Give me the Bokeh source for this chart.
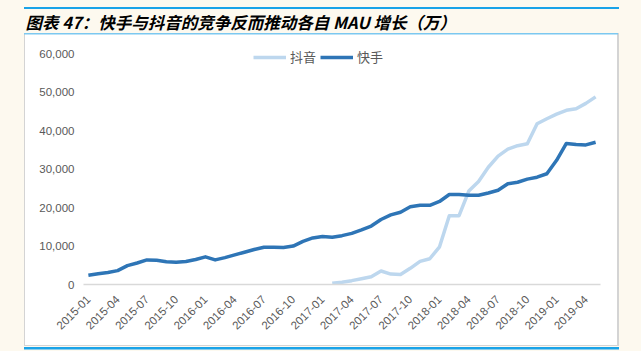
import math
import numpy as np
from bokeh.plotting import figure
from bokeh.models import FixedTicker, NumeralTickFormatter
from bokeh.embed import file_html
from bokeh.resources import INLINE

# ---------------- data ----------------
months = [f"{y}-{m:02d}" for y in range(2015, 2020) for m in range(1, 13)][:53]  # 2015-01 .. 2019-05
tick_months = ["2015-01", "2015-04", "2015-07", "2015-10", "2016-01", "2016-04",
               "2016-07", "2016-10", "2017-01", "2017-04", "2017-07", "2017-10",
               "2018-01", "2018-04", "2018-07", "2018-10", "2019-01", "2019-04"]

kuaishou = [2400, 2800, 3100, 3600, 4900, 5600, 6400, 6300, 5900, 5800,
            6000, 6500, 7200, 6400, 7000, 7700, 8400, 9100, 9700, 9700,
            9600, 10000, 11200, 12100, 12500, 12300, 12700, 13300, 14200, 15200,
            16900, 18100, 18800, 20200, 20600, 20600, 21600, 23400, 23400, 23200,
            23200, 23800, 24500, 26200, 26600, 27400, 27900, 28800, 32300, 36700,
            36400, 36300, 37000]

douyin = [None] * 25 + [300, 600, 1000, 1500, 2000, 3500, 2700, 2600, 4200, 6000,
                        6700, 9800, 17900, 17900, 24300, 26800, 30500, 33400, 35200, 36100,
                        36600, 41800, 43100, 44300, 45300, 45700, 47100, 48800]

y_ticks = [0, 10000, 20000, 30000, 40000, 50000, 60000]

title_text = "图表 47：快手与抖音的竞争反而推动各自 MAU 增长（万）"

# ---------------- figure ----------------
W, H = 641, 351
FL, FR, FT, FB = 83, 600, 40, 284   # frame edges in canvas px
Y0_PX, Y60_PX = 284, 53.3           # pixel rows of 0 and 60,000
y_top = 60000 * (FB - FT) / (Y0_PX - Y60_PX)

CREAM = "#FDF9EF"
p = figure(width=W, height=H, output_backend="svg", toolbar_location=None,
           x_range=(-0.5, len(months) - 0.5), y_range=(0, y_top),
           min_border_left=FL, min_border_right=W - FR,
           min_border_top=FT, min_border_bottom=H - FB)
p.border_fill_alpha = 0
p.background_fill_color = "white"
p.outline_line_color = None

# page decoration: cream page, white panel, blue rules (CSS background layers)
layers = [
    ("#1AA3E8", "595px 2px", "24px 7px"),       # top blue rule
    ("#1AA3E8", "595px 2.5px", "24px 347px"),   # bottom blue rule
    ("#7CC8F0", "594px 1.5px", "24px 33px"),    # panel top line
    ("#FFFFFF", "592px 311px", "25px 34px"),    # white panel
    ("#D4D4D4", "595px 313px", "24px 33px"),    # panel border / shadow
]
p.styles = {
    "background-color": CREAM,
    "background-image": ", ".join(f"linear-gradient({c},{c})" for c, _, _ in layers),
    "background-size": ", ".join(s for _, s, _ in layers),
    "background-position": ", ".join(pos for _, _, pos in layers),
    "background-repeat": "no-repeat",
}

# title
p.title.text = title_text
p.title.align = "left"
p.title.offset = 25 - FL
p.title.standoff = 14
p.title.text_font = "Noto Sans CJK SC"
p.title.text_font_size = "16.5px"
p.title.text_font_style = "bold italic"
p.title.text_color = "#000000"

x = np.arange(len(months))
dy = np.array([np.nan if v is None else v for v in douyin], dtype=float)
ks = np.array(kuaishou, dtype=float)

p.line(x, dy, line_color="#BDD7EE", line_width=3.5, line_join="round", legend_label="抖音")
p.line(x, ks, line_color="#2E75B6", line_width=3.5, line_join="round", legend_label="快手")

# axes
p.xgrid.visible = False
p.ygrid.visible = False

xa = p.xaxis[0]
xa.ticker = FixedTicker(ticks=[months.index(m) for m in tick_months])
xa.major_label_overrides = {months.index(m): m for m in tick_months}
xa.major_label_orientation = math.pi / 4
xa.axis_line_color = "#D9D9D9"
xa.axis_line_width = 1.5
xa.major_tick_line_color = None
xa.minor_tick_line_color = None
xa.major_tick_out = 0
xa.major_tick_in = 0
xa.minor_tick_out = 0
xa.major_label_text_font = "Liberation Sans"
xa.major_label_text_font_size = "11.5px"
xa.major_label_text_color = "#595959"
xa.major_label_standoff = 13

ya = p.yaxis[0]
ya.ticker = FixedTicker(ticks=y_ticks)
ya.formatter = NumeralTickFormatter(format="0,0")
ya.axis_line_color = None
ya.major_tick_line_color = None
ya.minor_tick_line_color = None
ya.major_tick_out = 0
ya.major_tick_in = 0
ya.minor_tick_out = 0
ya.major_label_text_font = "Liberation Sans"
ya.major_label_text_font_size = "11.5px"
ya.major_label_text_color = "#595959"
ya.major_label_standoff = 9

lg = p.legend[0]
lg.orientation = "horizontal"
lg.location = (170, 218)
lg.border_line_color = None
lg.background_fill_alpha = 0
lg.label_text_font = "Noto Sans CJK SC"
lg.label_text_font_size = "13px"
lg.label_text_color = "#595959"
lg.glyph_width = 33
lg.glyph_height = 16
lg.label_standoff = 4
lg.spacing = 4
lg.padding = 0
lg.margin = 0

open("out.html", "w").write(file_html(p, INLINE))
